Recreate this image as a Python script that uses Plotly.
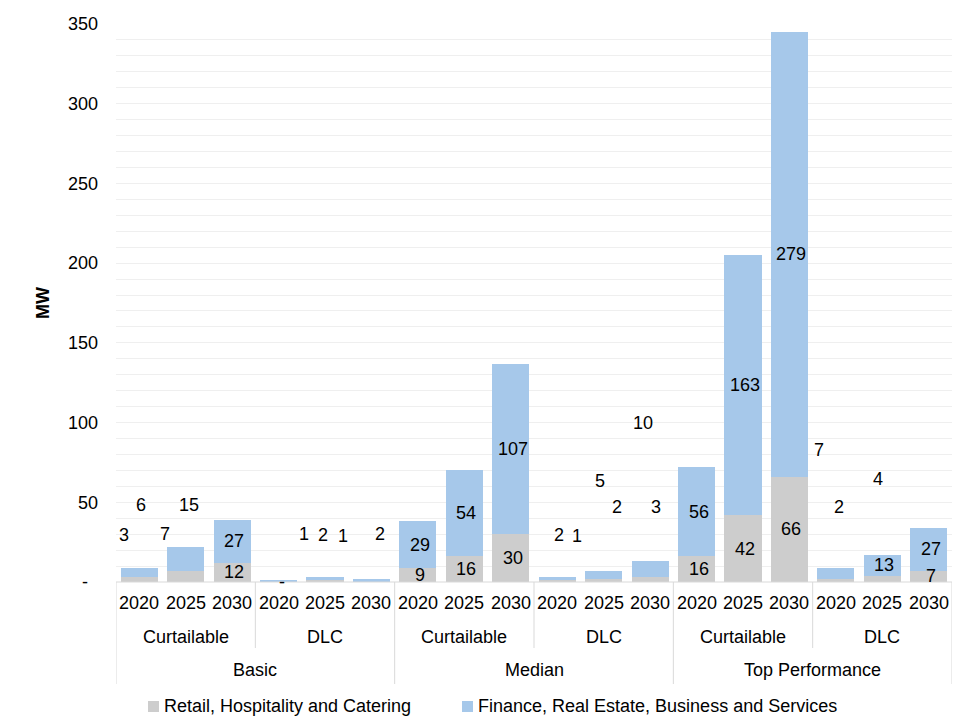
import plotly.graph_objects as go

# ---- data -------------------------------------------------------------
scenarios = ["Basic", "Median", "Top Performance"]
programs = ["Curtailable", "DLC"]
years = ["2020", "2025", "2030"]

series_names = ["Retail, Hospitality and Catering",
                "Finance, Real Estate, Business and Services"]

# MW by scenario / program / year (18 stacked columns)
retail = [3, 7, 12, 0, 1, 0,
          9, 16, 30, 1, 2, 3,
          16, 42, 66, 2, 4, 7]
finance = [6, 15, 27, 1, 2, 2,
           29, 54, 107, 2, 5, 10,
           56, 163, 279, 7, 13, 27]

y_ticks = [0, 50, 100, 150, 200, 250, 300, 350]

# ---- styling / layout constants ----------------------------------------
W, H = 971, 718
ML, MR, MT, MB = 116, 19, 24, 136
PLOT_W = W - ML - MR
PLOT_H = H - MT - MB
FONT = "Arial, Liberation Sans, sans-serif"
GRAY = "#CDCDCD"
BLUE = "#A6C8EA"
LINE = "#D9D9D9"
GRID = "#EFEFEF"

# pixel nudges (x right, y up) for data labels that sit away from
# the centre of their segment; None = centred, "hide" = not shown
retail_label_shift = [(-15, 45), (-21, 42), None, (3, 0), (18, 45), "hide",
                      None, None, None, (20, 45), (13, 73), (6, 73),
                      None, None, None, (3, 73), (-4, 100), None]
finance_label_shift = [(2, 67), (3, 54), None, (25, 47), (-2, 44), (9, 46),
                       None, None, None, (2, 44), (-4, 94), (-7, 146),
                       None, None, None, (-17, 123), None, None]

n = len(retail)
xs = list(range(n))


def px_to_paper_y(py):
    return (H - MB - py) / PLOT_H


def px_to_paper_x(px):
    return (px - ML) / PLOT_W


def fmt(v):
    return "-" if v == 0 else f"{v:,.0f}"


fig = go.Figure()
fig.add_trace(go.Bar(x=xs, y=retail, name=series_names[0], marker_color=GRAY,
                     marker_line_width=0, width=0.8, showlegend=False,
                     hoverinfo="y+name"))
fig.add_trace(go.Bar(x=xs, y=finance, name=series_names[1], marker_color=BLUE,
                     marker_line_width=0, width=0.8, showlegend=False,
                     hoverinfo="y+name"))

annotations = []
shapes = []

# data labels
for i in range(n):
    g, b = retail[i], finance[i]
    for val, centre, shift in ((g, g / 2, retail_label_shift[i]),
                               (b, g + b / 2, finance_label_shift[i])):
        if shift == "hide":
            continue
        dx, dy = shift if shift is not None else (2, 0)
        annotations.append(dict(
            x=i, y=centre, xref="x", yref="y", text=fmt(val), showarrow=False,
            xanchor="center", yanchor="middle", xshift=dx, yshift=dy,
            font=dict(family=FONT, size=18, color="#000000")))

# three-level category axis
for i in range(n):
    annotations.append(dict(
        x=i, y=0, xref="x", yref="paper", text=years[i % 3], showarrow=False,
        xanchor="center", yanchor="middle", yshift=-21,
        font=dict(family=FONT, size=18, color="#000000")))
for k in range(len(scenarios) * len(programs)):
    annotations.append(dict(
        x=3 * k + 1, y=0, xref="x", yref="paper", text=programs[k % 2],
        showarrow=False, xanchor="center", yanchor="middle", yshift=-55,
        font=dict(family=FONT, size=18, color="#000000")))
for s, name in enumerate(scenarios):
    annotations.append(dict(
        x=6 * s + 2.5, y=0, xref="x", yref="paper", text=name,
        showarrow=False, xanchor="center", yanchor="middle", yshift=-88,
        font=dict(family=FONT, size=18, color="#000000")))

# axis box lines
shapes.append(dict(type="line", xref="x", yref="paper", x0=-0.5, x1=n - 0.5,
                   y0=0, y1=0, line=dict(color=LINE, width=1)))
for k in range(len(scenarios) * len(programs) + 1):
    xb = 3 * k - 0.5
    bottom = 684 if k % 2 == 0 else 648
    shapes.append(dict(type="line", xref="x", yref="paper", x0=xb, x1=xb,
                       y0=0, y1=px_to_paper_y(bottom),
                       line=dict(color=LINE, width=1)))

# y-axis title
annotations.append(dict(
    x=0, y=0.5, xref="paper", yref="paper", text="<b>MW</b>", textangle=-90,
    showarrow=False, xanchor="center", yanchor="middle", xshift=-(ML - 43),
    font=dict(family=FONT, size=18, color="#000000")))

# legend
legend_items = [(series_names[0], GRAY, 148), (series_names[1], BLUE, 462)]
for name, color, left in legend_items:
    shapes.append(dict(type="rect", xref="paper", yref="paper",
                       x0=px_to_paper_x(left), x1=px_to_paper_x(left + 11),
                       y0=px_to_paper_y(712), y1=px_to_paper_y(701),
                       fillcolor=color, line=dict(width=0)))
    annotations.append(dict(
        x=px_to_paper_x(left + 14), y=px_to_paper_y(706), xref="paper",
        yref="paper", text=name, showarrow=False, xanchor="left",
        yanchor="middle",
        font=dict(family=FONT, size=18, color="#000000")))

fig.update_layout(
    width=W, height=H,
    margin=dict(l=ML, r=MR, t=MT, b=MB, pad=0),
    barmode="stack",
    plot_bgcolor="white", paper_bgcolor="white",
    font=dict(family=FONT, size=18, color="#000000"),
    xaxis=dict(range=[-0.5, n - 0.5], showticklabels=False, showgrid=False,
               zeroline=False, showline=False, ticks="", fixedrange=True),
    yaxis=dict(range=[0, 350], tickvals=y_ticks,
               ticktext=["-\u00a0\u00a0"] + [str(v) for v in y_ticks[1:]],
               tickfont=dict(family=FONT, size=18, color="#000000"),
               ticks="", ticklabelstandoff=17,
               showgrid=True, gridcolor=GRID, gridwidth=1,
               minor=dict(dtick=10, showgrid=True, gridcolor=GRID, gridwidth=1),
               zeroline=False, showline=False, fixedrange=True),
    annotations=annotations,
    shapes=shapes,
)

fig.write_html("out.html")
